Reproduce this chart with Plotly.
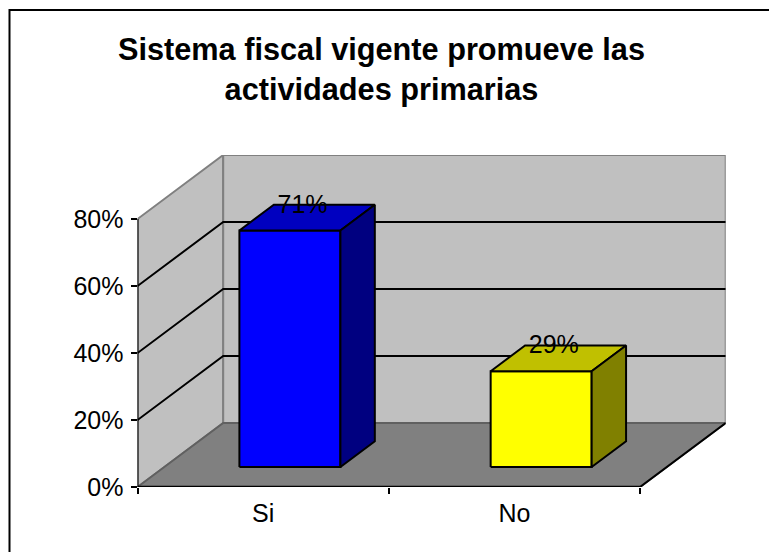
import plotly.graph_objects as go

# ---- data ----
categories = ["Si", "No"]
values = [70.6, 28.6]
y_ticks = [0, 20, 40, 60, 80]
title_text = "Sistema fiscal vigente promueve las<br>actividades primarias"
front_colors = ["#0000ff", "#ffff00"]
top_colors = ["#0000c0", "#c0c000"]
side_colors = ["#000080", "#808000"]

W, H = 769, 552
L, R, B, T = 137.5, 640.0, 487.0, 219.0      # front plane pixels
DX_PX, DY_PX = 85.7, 64.0                    # oblique depth offset
CAT_PX = (R - L) / len(categories)
Y_MAX = 80.0
PX_PER_Y = (B - T) / Y_MAX
DX = DX_PX / CAT_PX                          # depth in category units
DY = DY_PX / PX_PER_Y                        # depth in value units
BAR_W = 0.402
D0, D1 = 0.3125, 0.714                       # bar depth span
LABEL_D = 0.46                               # label horizontal depth position


def proj(x, y, d):
    return x + d * DX, y + d * DY


def poly(pts, fill=None, line="black", width=2, name=""):
    xs, ys = zip(*[proj(*p) for p in pts])
    return go.Scatter(x=list(xs), y=list(ys), mode="lines", name=name,
                      fill="toself" if fill else None, fillcolor=fill,
                      line=dict(color=line, width=width), hoverinfo="skip",
                      showlegend=False, cliponaxis=False)


N = len(categories)
traces = []
# walls and floor
traces.append(poly([(0, 0, 0), (0, 0, 1), (0, Y_MAX, 1), (0, Y_MAX, 0), (0, 0, 0)], "#c0c0c0", "#808080"))
traces.append(poly([(0, 0, 1), (N, 0, 1), (N, Y_MAX, 1), (0, Y_MAX, 1), (0, 0, 1)], "#c0c0c0", "#808080"))
traces.append(poly([(0, 0, 0), (N, 0, 0), (N, 0, 1), (0, 0, 1), (0, 0, 0)], "#808080", "#606060"))
traces.append(poly([(N, 0, 0), (N, 0, 1)], None, "black"))
# gridlines
for t in y_ticks[1:-1]:
    traces.append(poly([(0, t, 0), (0, t, 1), (N, t, 1)]))
# bars
for i, v in enumerate(values):
    x0 = i + 0.5 - BAR_W / 2
    x1 = i + 0.5 + BAR_W / 2
    traces.append(poly([(x0, 0, D0), (x1, 0, D0), (x1, v, D0), (x0, v, D0), (x0, 0, D0)], front_colors[i]))
    traces.append(poly([(x0, v, D0), (x1, v, D0), (x1, v, D1), (x0, v, D1), (x0, v, D0)], top_colors[i]))
    traces.append(poly([(x1, 0, D0), (x1, 0, D1), (x1, v, D1), (x1, v, D0), (x1, 0, D0)], side_colors[i]))

fig = go.Figure(traces)

# value labels at the back edge of each bar top
lx = [proj(i + 0.5, v, LABEL_D)[0] for i, v in enumerate(values)]
ly = [proj(i + 0.5, v, D1)[1] - 0.5 for i, v in enumerate(values)]
fig.add_trace(go.Scatter(x=lx, y=ly, mode="text",
                         text=[f"{round(v)}%" for v in values],
                         textposition="middle center",
                         textfont=dict(family="Liberation Sans", size=25, color="black"),
                         hoverinfo="skip", showlegend=False, cliponaxis=False))

fig.update_layout(
    width=W, height=H, autosize=False,
    margin=dict(l=0, r=0, t=0, b=0, pad=0, autoexpand=False),
    paper_bgcolor="white", plot_bgcolor="rgba(0,0,0,0)",
    font=dict(family="Liberation Sans", color="black"),
    showlegend=False,
    title=dict(text=title_text, x=381.5 / W, xanchor="center", xref="paper",
               y=1 - 60 / H, yanchor="top", yref="container",
               font=dict(family="Liberation Sans", size=30.7, color="black", weight="bold")),
    xaxis=dict(domain=[L / W, (R + DX_PX) / W], range=[0, N + DX], showgrid=False, zeroline=False,
               tickmode="array", tickvals=[i + 0.5 for i in range(N)], ticktext=categories,
               ticks="", ticklabelstandoff=9, tickfont=dict(size=25, color="black"),
               showline=False,
               minor=dict(tickmode="array", tickvals=list(range(N + 1)), ticks="outside",
                          ticklen=6, tickwidth=2, tickcolor="black")),
    yaxis=dict(domain=[(H - B) / H, (H - T + DY_PX) / H], range=[0, Y_MAX + DY], showgrid=False, zeroline=False,
               tickmode="array", tickvals=y_ticks, ticktext=[f"{t}%" for t in y_ticks],
               ticks="outside", ticklen=6, tickwidth=2, tickcolor="black", ticklabelstandoff=2,
               tickfont=dict(size=25, color="black"), showline=False),
    shapes=[
        dict(type="rect", xref="paper", yref="paper", x0=9.5 / W, x1=1.05, y0=-0.05, y1=1 - 10 / H,
             line=dict(color="black", width=2), fillcolor="rgba(0,0,0,0)", layer="above"),
        dict(type="line", xref="x", yref="y", x0=0, x1=N, y0=0, y1=0, line=dict(color="black", width=2.5), layer="above"),
        dict(type="line", xref="x", yref="y", x0=0, x1=0, y0=0, y1=Y_MAX, line=dict(color="black", width=2), layer="above"),
    ],
)

fig.write_html("out.html", config={"displayModeBar": False},
               post_script="document.body.style.margin='0';")
